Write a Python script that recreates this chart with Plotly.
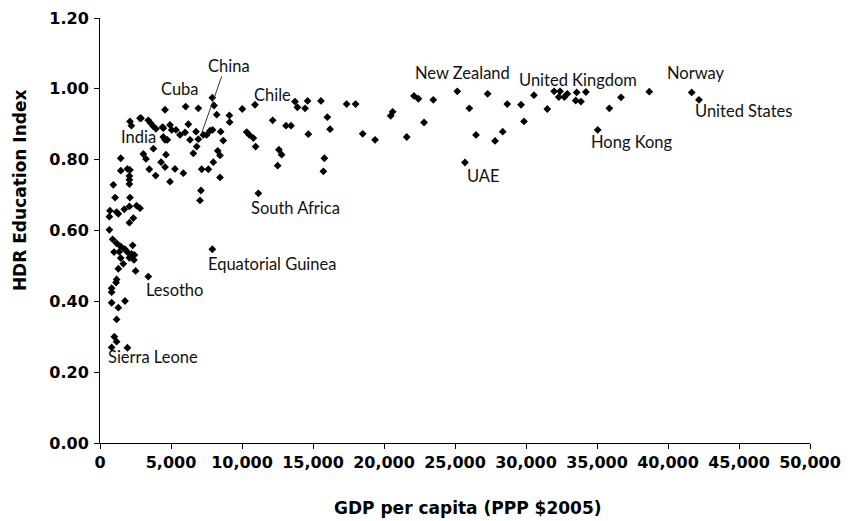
import plotly.graph_objects as go

gdp = [7910, 4580, 6030, 6925, 8030, 8220, 9110, 9130, 10020, 10915,
       13730, 13900, 14440, 14620, 15560, 17370, 12160, 13100, 13450, 16010,
       16200, 14670, 10330, 10520, 10800, 10960, 12600, 12790, 12510, 15800,
       15730, 11150, 2110, 2210, 2820, 3400, 3570, 3760, 3940, 4410,
       4930, 5050, 5350, 5630, 5990, 6220, 6340, 6760, 6925, 7280,
       7510, 7750, 7930, 8500, 8680, 4460, 4580, 4740, 3760, 3050,
       3240, 4650, 4300, 4580, 5280, 5870, 4930, 3470, 3920, 6810,
       6570, 7160, 7630, 7980, 8290, 8450, 8450, 7110, 7040, 1460,
       1460, 1930, 2110, 2070, 2070, 2070, 940, 1060, 2110, 700,
       660, 1170, 1290, 1710, 2070, 2580, 2820, 2070, 2350, 660,
       890, 1170, 1460, 2300, 7910, 990, 1360, 1760, 1930, 2230,
       2070, 2420, 2390, 1460, 1640, 1290, 2510, 3400, 1170, 1130,
       820, 820, 820, 1290, 1760, 1170, 1010, 1170, 820, 1930,
       18000, 18500, 19370, 20470, 20610, 21600, 22110, 22420, 22820, 23470,
       25160, 26010, 25700, 26480, 27300, 27820, 28360, 28680, 29650, 29860,
       30560, 31500, 31980, 32400, 32310, 32700, 32910, 33570, 33500, 33870,
       34220, 35050, 35870, 36690, 38680, 41670, 42180, 2890, 4460]
edu = [0.975, 0.941, 0.950, 0.945, 0.953, 0.927, 0.925, 0.906, 0.943, 0.955,
       0.964, 0.948, 0.945, 0.966, 0.966, 0.957, 0.911, 0.896, 0.896, 0.920,
       0.886, 0.872, 0.878, 0.870, 0.861, 0.837, 0.828, 0.814, 0.783, 0.804,
       0.767, 0.705, 0.908, 0.896, 0.917, 0.911, 0.903, 0.894, 0.887, 0.892,
       0.898, 0.884, 0.884, 0.870, 0.877, 0.900, 0.856, 0.879, 0.858, 0.870,
       0.870, 0.882, 0.884, 0.879, 0.854, 0.864, 0.856, 0.856, 0.831, 0.816,
       0.802, 0.814, 0.793, 0.779, 0.774, 0.762, 0.738, 0.773, 0.755, 0.837,
       0.818, 0.773, 0.773, 0.793, 0.825, 0.812, 0.750, 0.713, 0.685, 0.804,
       0.769, 0.774, 0.771, 0.754, 0.743, 0.731, 0.729, 0.693, 0.693, 0.656,
       0.639, 0.652, 0.647, 0.660, 0.668, 0.670, 0.663, 0.622, 0.635, 0.602,
       0.575, 0.564, 0.555, 0.558, 0.547, 0.539, 0.540, 0.547, 0.539, 0.534,
       0.523, 0.531, 0.517, 0.522, 0.506, 0.492, 0.486, 0.470, 0.462, 0.453,
       0.437, 0.426, 0.396, 0.382, 0.401, 0.349, 0.300, 0.286, 0.270, 0.269,
       0.957, 0.873, 0.856, 0.924, 0.935, 0.864, 0.980, 0.972, 0.905, 0.969,
       0.993, 0.945, 0.792, 0.870, 0.986, 0.853, 0.879, 0.957, 0.955, 0.908,
       0.982, 0.943, 0.993, 0.993, 0.977, 0.977, 0.986, 0.990, 0.967, 0.964,
       0.991, 0.884, 0.945, 0.976, 0.992, 0.990, 0.969, 0.917, 0.889]

label_text = ["China", "Cuba", "India", "Chile", "South Africa", "Equatorial Guinea",
              "Lesotho", "Sierra Leone", "New Zealand", "United Kingdom", "Norway",
              "United States", "UAE", "Hong Kong"]
label_x = [9085, 5634, 2746, 12180, 13800, 12110, 5280, 3730, 25560, 33660, 41970,
           45350, 27040, 37460]
label_y = [1.065, 1.000, 0.864, 0.983, 0.664, 0.506, 0.432, 0.243, 1.045, 1.025,
           1.045, 0.938, 0.754, 0.850]

y_ticks = [0.0, 0.2, 0.4, 0.6, 0.8, 1.0, 1.2]
x_ticks = [0, 5000, 10000, 15000, 20000, 25000, 30000, 35000, 40000, 45000, 50000]

x_title = "GDP per capita (PPP $2005)"
y_title = "HDR Education Index"

LABEL_FONT = "Lato"
AXIS_FONT = "DejaVu Sans"

fig = go.Figure()
fig.add_trace(go.Scatter(
    x=gdp, y=edu, mode="markers",
    marker=dict(symbol="diamond", size=6, color="black"),
    showlegend=False, hoverinfo="x+y"))

for t, x, y in zip(label_text, label_x, label_y):
    fig.add_annotation(x=x, y=y, text=t, showarrow=False, xanchor="center",
                       yanchor="middle", font=dict(family=LABEL_FONT, size=16.5, color="#111"))

# leader line for China
fig.add_shape(type="line", x0=8570, y0=1.035, x1=7160, y1=0.875,
              line=dict(color="#333", width=1))

# axis titles
fig.add_annotation(xref="paper", yref="paper", x=-0.1127, y=0.595, text=y_title,
                   textangle=-90, showarrow=False, xanchor="center", yanchor="middle",
                   font=dict(family=AXIS_FONT, size=17, weight="bold", color="black"))
fig.add_annotation(xref="paper", yref="paper", x=0.518, y=-0.153, text=x_title,
                   showarrow=False, xanchor="center", yanchor="middle",
                   font=dict(family=AXIS_FONT, size=17, weight="bold", color="black"))

fig.update_layout(
    width=851, height=521,
    margin=dict(l=92, r=49, t=10, b=86, autoexpand=False),
    plot_bgcolor="white", paper_bgcolor="white",
    font=dict(family=AXIS_FONT, color="black"),
)
fig.update_xaxes(
    range=[0, 50000], tickvals=x_ticks, automargin=False,
    ticktext=[f"{v:,}" for v in x_ticks],
    showgrid=False, zeroline=False, showline=True, linecolor="black", linewidth=1,
    ticks="outside", ticklen=5, tickcolor="black", ticklabelstandoff=0,
    tickfont=dict(family=AXIS_FONT, size=16, weight="bold"),
)
fig.update_yaxes(
    range=[0, 1.2], tickvals=y_ticks, automargin=False,
    ticktext=[f"{v:.2f}" for v in y_ticks],
    showgrid=False, zeroline=False, showline=True, linecolor="black", linewidth=1,
    ticks="outside", ticklen=5, tickcolor="black", ticklabelstandoff=2,
    tickfont=dict(family=AXIS_FONT, size=16, weight="bold"),
)

fig.write_html("out.html")
